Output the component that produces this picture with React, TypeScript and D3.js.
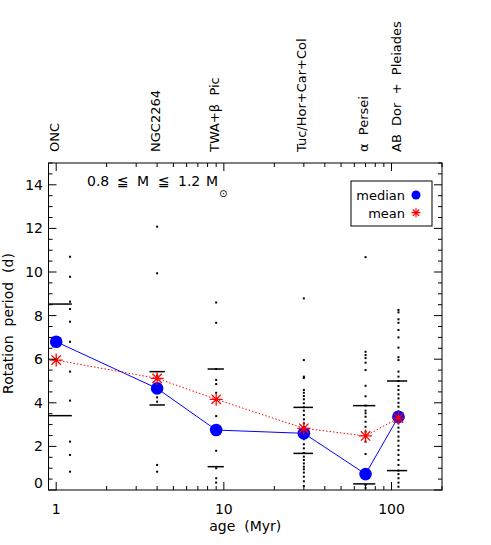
import React from "react";
import * as d3 from "d3";

// ---- data ----
const groupLabels = ["ONC", "NGC2264", "TWA+β  Pic", "Tuc/Hor+Car+Col", "α  Persei", "AB  Dor  +  Pleiades"];
const ages = [1, 4, 9, 30, 70, 110];
const ageLo = [0.9, 3.6, 8, 26, 59, 94];
const ageHi = [1.24, 4.45, 10, 34, 80, 124];
const scatterAges = [1.21, 4, 9, 30, 70, 110];
const medians = [6.8, 4.66, 2.75, 2.6, 0.73, 3.36];
const means = [5.96, 5.12, 4.16, 2.83, 2.48, 3.3];
const upperBars = [8.53, 5.43, 5.55, 3.79, 3.87, 5.0];
const lowerBars = [3.41, 3.9, 1.07, 1.68, 0.28, 0.89];

const periodsONC = [10.7, 9.78, 8.64, 8.3, 7.72, 6.8, 5.43, 4.1, 2.22, 1.61, 0.84];
const periodsNGC = [12.08, 9.94, 5.25, 4.66, 4.25, 4.05, 1.15, 0.84];
const periodsTWA = [8.6, 7.67, 5.55, 5.05, 4.86, 4.46, 4.16, 3.39, 2.75, 1.8, 1.0, 0.54, 0.34];
const periodsTuc = [8.79, 5.96, 5.2, 5.14, 4.59, 4.46, 4.31, 4.16, 3.98, 3.8, 3.64, 3.44, 3.24, 3.06, 2.9, 2.75, 2.6, 2.45, 2.33, 2.1, 1.91, 1.7, 1.53, 1.38, 1.22, 1.07, 0.95, 0.8, 0.61, 0.4, 0.18];
const periodsPer = [10.68, 6.34, 6.19, 6.05, 5.84, 5.5, 4.78, 4.3, 3.87, 3.64, 3.52, 3.36, 3.13, 2.9, 2.67, 2.22, 1.65, 0.73, 0.23, 0.09];
const periodsABD = [8.26, 8.15, 7.83, 7.67, 7.34, 7.0, 6.53, 6.09, 5.96, 5.43, 5.2, 5.0, 4.77, 4.59, 4.39, 4.2, 4.0, 3.82, 3.6, 3.36, 3.2, 3.06, 2.86, 2.67, 2.45, 2.26, 2.03, 1.83, 1.61, 1.38, 1.15, 0.89, 0.73, 0.54, 0.34, 0.15];
const periodsByGroup = [periodsONC, periodsNGC, periodsTWA, periodsTuc, periodsPer, periodsABD];

const xTickValues = [1, 10, 100];
const xTickLabels = ["1", "10", "100"];
const yTickValues = [0, 2, 4, 6, 8, 10, 12, 14];

// ---- layout ----
const W = 491, H = 545;
const L = 48.5, R = 442, T = 163, B = 490;
const FONT = "'DejaVu Sans', sans-serif";

const x = d3.scaleLog().domain([0.9, 200]).range([L, R]);
const y = d3.scaleLinear().domain([0, 15]).range([B, T]);

function starPath(cx: number, cy: number, r: number) {
  const d = r * 0.72;
  return `M${cx - r},${cy}H${cx + r}M${cx},${cy - r}V${cy + r}M${cx - d},${cy - d}L${cx + d},${cy + d}M${cx - d},${cy + d}L${cx + d},${cy - d}`;
}

export default function App() {
  const xMinor: number[] = [];
  for (const dec of [1, 10, 100]) for (let k = 2; k <= 9; k++) { const v = dec * k; if (v <= 200) xMinor.push(v); }
  const yMinor = d3.range(0, 15.01, 0.5).filter((v) => Math.abs(v % 2) > 1e-6);

  const medLine = d3.line<number>().x((_, i) => x(ages[i])).y((d) => y(d));

  return (
    <svg width={W} height={H} style={{ position: "absolute", left: 0, top: 0, background: "#fff" }} fontFamily={FONT}>
      <rect x={0} y={0} width={W} height={H} fill="#fff" />
      {/* scatter points */}
      {periodsByGroup.map((arr, gi) =>
        arr.map((p, j) => (
          <rect key={`p${gi}-${j}`} x={x(scatterAges[gi]) - 1} y={y(p) - 1} width={2} height={2} fill="#000" />
        ))
      )}
      {/* quartile bars */}
      {ages.map((_, i) => (
        <g key={`bar${i}`} stroke="#000" strokeWidth={1.5}>
          <line x1={Math.max(L, x(ageLo[i]))} x2={x(ageHi[i])} y1={y(upperBars[i])} y2={y(upperBars[i])} />
          <line x1={Math.max(L, x(ageLo[i]))} x2={x(ageHi[i])} y1={y(lowerBars[i])} y2={y(lowerBars[i])} />
        </g>
      ))}
      {/* lines */}
      <path d={medLine(medians) || ""} fill="none" stroke="#0000ff" strokeWidth={1} />
      <path d={medLine(means) || ""} fill="none" stroke="#ff0000" strokeWidth={1} strokeDasharray="1.5,2" />
      {medians.map((m, i) => (
        <circle key={`m${i}`} cx={x(ages[i])} cy={y(m)} r={6.3} fill="#0000ff" />
      ))}
      {means.map((m, i) => (
        <path key={`s${i}`} d={starPath(x(ages[i]), y(m), 6.5)} stroke="#ff0000" strokeWidth={1.3} fill="none" />
      ))}

      {/* frame */}
      <rect x={L} y={T} width={R - L} height={B - T} fill="none" stroke="#000" strokeWidth={1} />
      {/* x ticks */}
      {xTickValues.map((v) => (
        <g key={`xt${v}`} stroke="#000">
          <line x1={x(v)} x2={x(v)} y1={B} y2={B - 8} />
          <line x1={x(v)} x2={x(v)} y1={T} y2={T + 8} />
        </g>
      ))}
      {xMinor.map((v) => (
        <g key={`xm${v}`} stroke="#000">
          <line x1={x(v)} x2={x(v)} y1={B} y2={B - 4} />
          <line x1={x(v)} x2={x(v)} y1={T} y2={T + 4} />
        </g>
      ))}
      {xTickValues.map((v, i) => (
        <text key={`xl${v}`} x={x(v)} y={514} fontSize={14} textAnchor="middle" fill="#000">{xTickLabels[i]}</text>
      ))}
      {/* y ticks */}
      {yTickValues.map((v) => (
        <g key={`yt${v}`} stroke="#000">
          <line x1={L} x2={L + 8} y1={y(v)} y2={y(v)} />
          <line x1={R} x2={R - 8} y1={y(v)} y2={y(v)} />
        </g>
      ))}
      {yMinor.map((v) => (
        <g key={`ym${v}`} stroke="#000">
          <line x1={L} x2={L + 4} y1={y(v)} y2={y(v)} />
          <line x1={R} x2={R - 4} y1={y(v)} y2={y(v)} />
        </g>
      ))}
      {yTickValues.map((v) => (
        <text key={`yl${v}`} x={43} y={v === 0 ? y(v) - 2 : y(v) + 5} fontSize={14} textAnchor="end" fill="#000">{v}</text>
      ))}

      {/* axis titles */}
      <text x={(L + R) / 2} y={531} fontSize={14} textAnchor="middle" fill="#000" style={{ whiteSpace: "pre" }}>{"age  (Myr)"}</text>
      <text transform={`translate(13,${(T + B) / 2 - 3}) rotate(-90)`} fontSize={14} textAnchor="middle" fill="#000" style={{ whiteSpace: "pre" }}>{"Rotation  period  (d)"}</text>

      {/* group labels */}
      {groupLabels.map((g, i) => (
        <text key={`g${i}`} transform={`translate(${x(ages[i]) + 2.5},152) rotate(-90)`} fontSize={13} fill="#000" style={{ whiteSpace: "pre" }}>{g}</text>
      ))}

      {/* annotation */}
      <text y={185.5} fontSize={14} fill="#000">
        <tspan x={87}>0.8</tspan>
        <tspan x={117}>≦</tspan>
        <tspan x={137}>M</tspan>
        <tspan x={158}>≦</tspan>
        <tspan x={178}>1.2</tspan>
        <tspan x={206}>M</tspan>
      </text>
      <text x={219} y={197} fontSize={10} fill="#000">⊙</text>

      {/* legend */}
      <rect x={351} y={181} width={81} height={45} fill="#fff" stroke="#000" strokeWidth={1} />
      <text x={405} y={200} fontSize={13} textAnchor="end" fill="#000">median</text>
      <circle cx={416} cy={195} r={4.5} fill="#0000ff" />
      <text x={405} y={217.5} fontSize={13} textAnchor="end" fill="#000">mean</text>
      <path d={starPath(416, 212.7, 4.5)} stroke="#ff0000" strokeWidth={1.2} fill="none" />
    </svg>
  );
}
